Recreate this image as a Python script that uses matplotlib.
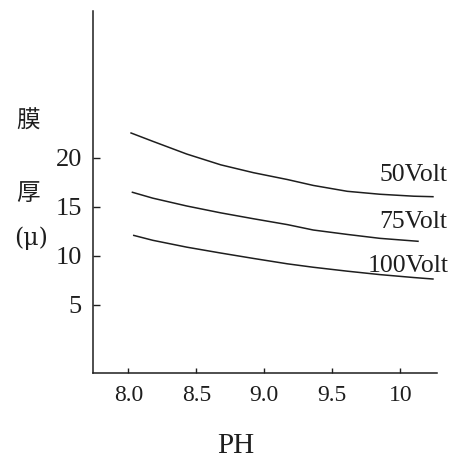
import matplotlib
matplotlib.use("Agg")
import matplotlib.pyplot as plt

# pH vs film thickness (micron)
ph_50 = [8.02, 8.18, 8.43, 8.68, 8.92, 9.17, 9.36, 9.61, 9.85, 10.10, 10.24]
th_50 = [22.55, 21.7, 20.4, 19.3, 18.5, 17.8, 17.2, 16.6, 16.3, 16.1, 16.05]

ph_75 = [8.03, 8.18, 8.43, 8.68, 8.92, 9.17, 9.36, 9.61, 9.85, 10.13]
th_75 = [16.5, 15.9, 15.1, 14.4, 13.8, 13.2, 12.65, 12.2, 11.8, 11.5]

ph_100 = [8.04, 8.18, 8.43, 8.68, 8.92, 9.17, 9.36, 9.61, 9.85, 10.10, 10.24]
th_100 = [12.1, 11.6, 10.9, 10.3, 9.75, 9.2, 8.85, 8.45, 8.1, 7.8, 7.65]

series = [("50Volt", ph_50, th_50), ("75Volt", ph_75, th_75), ("100Volt", ph_100, th_100)]

x_ticks = [8.0, 8.5, 9.0, 9.5, 10.0]
x_ticklabels = ["8.0", "8.5", "9.0", "9.5", "10"]
y_ticks = [5, 10, 15, 20]

INK = "#1e1e1e"
SERIF = "Liberation Serif"

fig = plt.figure(figsize=(4.61, 4.58), dpi=100)
ax = fig.add_axes([0.2017, 0.1856, 0.948 - 0.2017, 0.976 - 0.1856])

for name, x, y in series:
    ax.plot(x, y, color=INK, linewidth=1.1)

ax.set_xlim(7.74, 10.27)
ax.set_ylim(-1.94, 35.0)

for s in ["top", "right"]:
    ax.spines[s].set_visible(False)
for s in ["left", "bottom"]:
    ax.spines[s].set_linewidth(1.1)
    ax.spines[s].set_color(INK)

ax.set_xticks(x_ticks)
ax.set_xticklabels(x_ticklabels)
ax.set_yticks(y_ticks)
ax.tick_params(axis="y", direction="in", length=5, width=1.0, color=INK, pad=8,
               labelsize=19, labelcolor=INK)
ax.tick_params(axis="x", direction="in", length=3.5, width=1.0, color=INK, pad=9,
               labelsize=17, labelcolor=INK)
for lbl in ax.get_xticklabels() + ax.get_yticklabels():
    lbl.set_family(SERIF)

# curve labels at right
label_pos = {"50Volt": (0.897, 0.618), "75Volt": (0.897, 0.516), "100Volt": (0.885, 0.420)}
for name, x, y in series:
    fx, fy = label_pos[name]
    fig.text(fx, fy, name, ha="center", va="center", fontsize=18.5,
             family=SERIF, color=INK)

# vertical y label, split around tick labels
cjk = ["Noto Sans CJK JP", "DejaVu Serif"]
fig.text(28 / 461, 1 - 121 / 458, "膜", ha="center", va="center", fontsize=17,
         family=cjk, color=INK)
fig.text(28 / 461, 1 - 194 / 458, "厚", ha="center", va="center", fontsize=17,
         family=cjk, color=INK)
fig.text(31 / 461, 1 - 238 / 458, "(μ)", ha="center", va="center", fontsize=17,
         family=["DejaVu Serif"], color=INK)

fig.text(236 / 461, 1 - 446 / 458, "PH", ha="center", va="center", fontsize=21,
         family=SERIF, color=INK)

fig.savefig("out.png", dpi=100)
